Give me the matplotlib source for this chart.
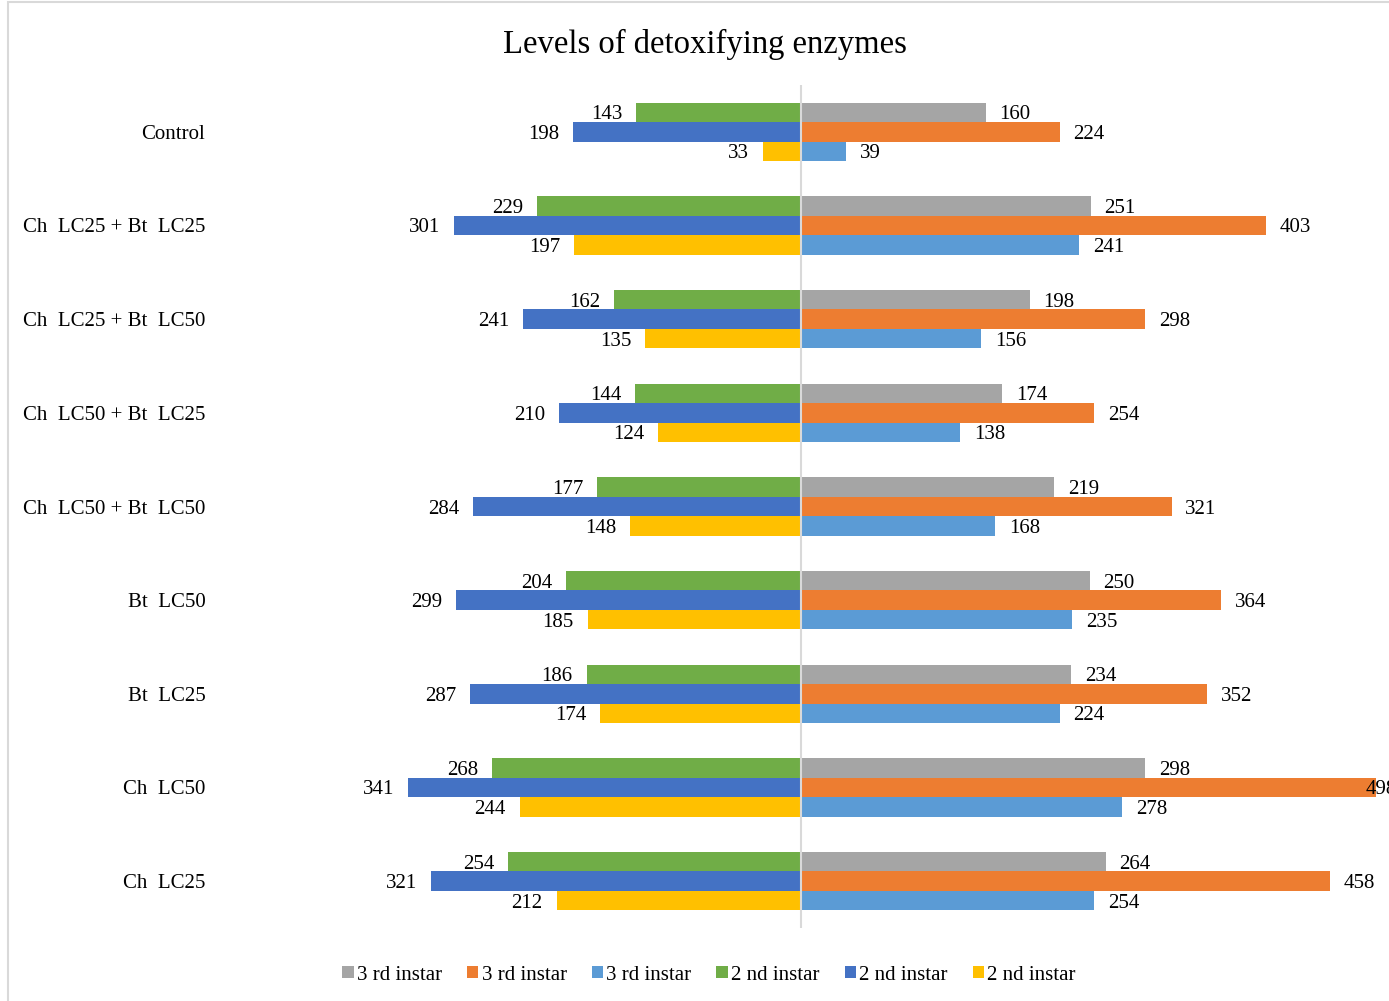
import matplotlib.pyplot as plt
from matplotlib.patches import Rectangle

plt.rcParams['font.family'] = ['Liberation Serif', 'DejaVu Serif']

# categories top to bottom
categories = ['Control', 'Ch  LC25 + Bt  LC25', 'Ch  LC25 + Bt  LC50',
              'Ch  LC50 + Bt  LC25', 'Ch  LC50 + Bt  LC50', 'Bt  LC50',
              'Bt  LC25', 'Ch  LC50', 'Ch  LC25']

# 2nd instar (left side)
green_2nd = [143, 229, 162, 144, 177, 204, 186, 268, 254]
blue_2nd = [198, 301, 241, 210, 284, 299, 287, 341, 321]
yellow_2nd = [33, 197, 135, 124, 148, 185, 174, 244, 212]

# 3rd instar (right side)
gray_3rd = [160, 251, 198, 174, 219, 250, 234, 298, 264]
orange_3rd = [224, 403, 298, 254, 321, 364, 352, 498, 458]
lblue_3rd = [39, 241, 156, 138, 168, 235, 224, 278, 254]

series_labels = ['3 rd instar', '3 rd instar', '3 rd instar',
                 '2 nd instar', '2 nd instar', '2 nd instar']

W, H = 1389, 1001
fig = plt.figure(figsize=(W / 100, H / 100), dpi=100)
ax = fig.add_axes([215 / W, 1 - 928 / H, (1389 - 215) / W, (928 - 85) / H])

bh = 0.208
y = list(range(len(categories)))

left_series = [(green_2nd, '#70AD47', -bh), (blue_2nd, '#4472C4', 0), (yellow_2nd, '#FFC000', bh)]
right_series = [(gray_3rd, '#A5A5A5', -bh), (orange_3rd, '#ED7D31', 0), (lblue_3rd, '#5B9BD5', bh)]

fs = 15
xmax = 509.5
off = 12
handles = {}
for vals, col, dy in right_series:
    b = ax.barh([i + dy for i in y], vals, height=bh, color=col)
    handles[col] = b
    for i, v in enumerate(vals):
        ax.text(min(v + off, 489), i + dy, str(v), va='center_baseline', ha='left',
                fontsize=fs, color='black')
for vals, col, dy in left_series:
    b = ax.barh([i + dy for i in y], [-v for v in vals], height=bh, color=col)
    handles[col] = b
    for i, v in enumerate(vals):
        ax.text(-v - off, i + dy, str(v), va='center_baseline', ha='right',
                fontsize=fs, color='black')

ax.axvline(0, color='#D9D9D9', lw=1.5, zorder=5)
ax.set_xlim(-508, xmax)
ax.set_ylim(len(categories) - 0.5, -0.5)
ax.set_yticks(y)
ax.set_yticklabels(categories, fontsize=fs, va='center_baseline')
ax.tick_params(axis='y', length=0, pad=7)
ax.set_xticks([])
for s in ax.spines.values():
    s.set_visible(False)

fig.text(705 / W, 1 - 41 / H, 'Levels of detoxifying enzymes', ha='center',
         va='center_baseline', fontsize=23.5)

order = ['#A5A5A5', '#ED7D31', '#5B9BD5', '#70AD47', '#4472C4', '#FFC000']
fig.legend([handles[c] for c in order], series_labels, loc='center', ncol=6,
           bbox_to_anchor=(709 / W, 1 - 975 / H), frameon=False, fontsize=fs,
           handlelength=0.55, handleheight=0.55, handletextpad=0.15, columnspacing=1.2)

fig.patches.append(Rectangle((8 / W, -0.1), 1.2, 1 - 2 / H + 0.1, transform=fig.transFigure,
                             fill=False, edgecolor='#D9D9D9', lw=1.5))

fig.savefig('out.png', dpi=100)
